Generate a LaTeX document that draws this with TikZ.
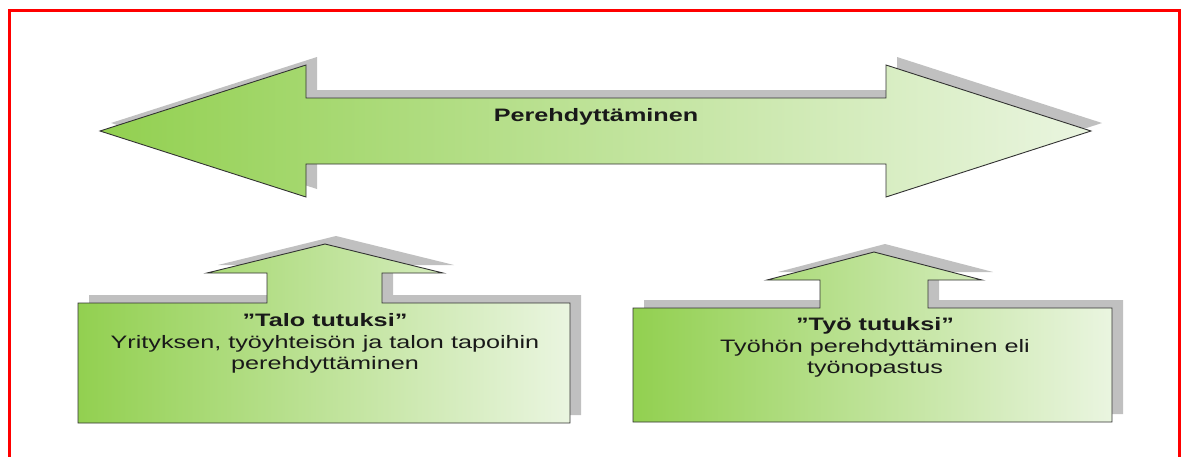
\documentclass[tikz,border=0pt]{standalone}
\usepackage{fontspec}
\setmainfont[FakeStretch=1.4]{Liberation Sans}
\definecolor{gdark}{RGB}{146,208,80}
\definecolor{glight}{RGB}{234,245,224}
\definecolor{shadowc}{RGB}{192,192,192}
\definecolor{edgec}{RGB}{50,50,50}
\tikzset{
  shadowshape/.style={fill=shadowc, draw=none},
  greenshape/.style={left color=gdark, right color=glight, draw=edgec, line width=0.9pt, line join=miter},
  lbl/.style={inner sep=0pt, anchor=base, font=\fontsize{18}{21.5}\selectfont, text=black!90},
  lblb/.style={lbl, font=\fontsize{18}{21.5}\selectfont\bfseries}
}
\newcommand\bigarrowpath{(100,131) -- (306,65) -- (306,98) -- (886,98) -- (886,65) -- (1091,131) -- (886,197) -- (886,164) -- (306,164) -- (306,197) -- cycle}
\newcommand\leftboxpath{(78,303) -- (267,303) -- (267,273) -- (207,273) -- (325,244) -- (443,273) -- (382,273) -- (382,303) -- (570,303) -- (570,423) -- (78,423) -- cycle}
\newcommand\rightboxpath{(633,308) -- (820,308) -- (820,280) -- (767,280) -- (874,252) -- (982,280) -- (928,280) -- (928,308) -- (1112,308) -- (1112,422) -- (633,422) -- cycle}
\begin{document}
\begin{tikzpicture}[x=1pt,y=-1pt]
\useasboundingbox (0,0) rectangle (1184,456);
\fill[white] (0,0) rectangle (1184,456);
% red frame
\draw[red, line width=3pt] (9.5,480) -- (9.5,10.5) -- (1179.5,10.5) -- (1179.5,480);
% shadows
\fill[shadowshape, shift={(11,-8)}] \bigarrowpath;
\fill[shadowshape, shift={(11,-8)}] \leftboxpath;
\fill[shadowshape, shift={(11,-8)}] \rightboxpath;
% shapes
\path[greenshape] \bigarrowpath;
\path[greenshape] \leftboxpath;
\path[greenshape] \rightboxpath;
% texts
\node[lblb] (main) at (596,121) {Perehdyttäminen};
\node[lblb] (l1) at (325,326) {”Talo tutuksi”};
\node[lbl] (l2) at (325,348) {Yrityksen, työyhteisön ja talon tapoihin};
\node[lbl] (l3) at (325,369.5) {perehdyttäminen};
\node[lblb] (r1) at (875,330) {”Työ tutuksi”};
\node[lbl] (r2) at (875,352) {Työhön perehdyttäminen eli};
\node[lbl] (r3) at (875,373) {työnopastus};
\end{tikzpicture}
\end{document}
